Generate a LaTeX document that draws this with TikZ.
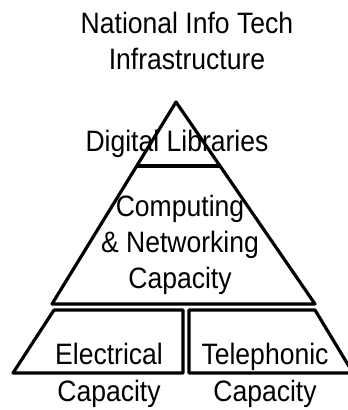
\documentclass[tikz,border=0pt]{standalone}
\usepackage{fontspec}
\setmainfont[FakeStretch=0.9]{Liberation Sans}
\usetikzlibrary{calc}

\begin{document}
\begin{tikzpicture}
	[x=1pt,y=1pt,
	layer/.style={draw=black, line width=3.2pt, line join=round},
	layertext/.style={font=\fontsize{29.5}{36.5}\selectfont, align=center, anchor=base, inner sep=0pt},
	]
	\clip (0,0) rectangle (348,410);
	
	%Corners
	\coordinate (apex) at (176,308);
	\coordinate (baseleft) at (52,106);
	\coordinate (baseright) at (315,106);
	
	%Nodes
	\node[layertext](title) at (187,340) {National Info Tech\\Infrastructure};
	\node[layertext](digital) at (177,258) {Digital Libraries};
	\node[layertext](computing) at (180,121) {Computing\\\& Networking\\Capacity};
	\node[layertext](electrical) at (109,9) {Electrical\\Capacity};
	\node[layertext](telephonic) at (265,9) {Telephonic\\Capacity};
	
	%Lines
	\draw[layer] (apex) -- (baseleft) -- (baseright) -- cycle;
	\draw[layer] ($(apex)!0.317!(baseleft)$) -- ($(apex)!0.317!(baseright)$);
	\draw[layer] (54,100) -- (183,100) -- (183,37) -- (13,37) -- cycle;
	\draw[layer] (189,100) -- (315,100) -- (353,37) -- (189,37) -- cycle;
\end{tikzpicture}
\end{document}
